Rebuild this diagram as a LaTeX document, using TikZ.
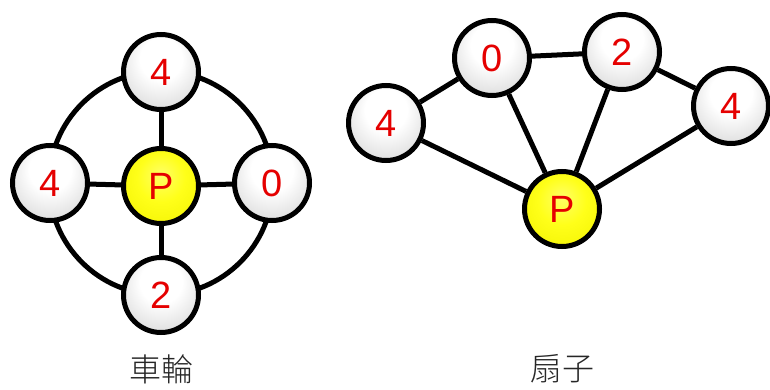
\documentclass[tikz,border=0pt]{standalone}
\usepackage{fontspec}
\setmainfont{Liberation Sans}
\newfontfamily\cjk{Noto Sans CJK TC Light}
% radial fill lit from above: white high up, grey towards the lower rim
\pgfdeclareradialshading{litball}{\pgfpoint{0bp}{12bp}}{%
  color(0bp)=(white); color(14bp)=(white); color(30bp)=(gray!25); color(42bp)=(gray!55); color(50bp)=(gray!60)}
\pgfdeclareradialshading{litsun}{\pgfpoint{0bp}{8bp}}{%
  color(0bp)=(yellow!60!white); color(16bp)=(yellow!90!white); color(36bp)=(yellow!95!black); color(50bp)=(yellow!80!black)}
\begin{document}
\begin{tikzpicture}[x=1pt,y=-1pt,
  vert/.style={circle,draw=black,line width=5pt,minimum size=75pt,inner sep=0pt,
    shading=litball,font=\fontsize{38}{38}\selectfont,text=red!90!black},
  hub/.style={vert,shading=litsun},
  link/.style={line width=5pt,draw=black},
  caption/.style={font=\cjk\fontsize{32}{32}\selectfont,text=black!85}]
\useasboundingbox (0,0) rectangle (770,390);

% wheel
\draw[link] (161,183) circle (112pt);
\node[hub]  (wp) at (161,186) {P};
\node[vert] (wt) at (161,72)  {4};
\node[vert] (wl) at (50,183)  {4};
\node[vert] (wr) at (272,183) {0};
\node[vert] (wb) at (161,295) {2};
\draw[link] (wp) -- (wt);
\draw[link] (wp) -- (wl);
\draw[link] (wp) -- (wr);
\draw[link] (wp) -- (wb);
\node[caption] (wcap) at (161,369) {車輪};

% fan
\node[hub]  (fp) at (562,209) {P};
\node[vert] (f1) at (386,123) {4};
\node[vert] (f2) at (492,58)  {0};
\node[vert] (f3) at (622,52)  {2};
\node[vert] (f4) at (731,106) {4};
\draw[link] (f1) -- (f2);
\draw[link] (f2) -- (f3);
\draw[link] (f3) -- (f4);
\draw[link] (fp) -- (f1);
\draw[link] (fp) -- (f2);
\draw[link] (fp) -- (f3);
\draw[link] (fp) -- (f4);
\node[caption] (fcap) at (562,369) {扇子};
\end{tikzpicture}
\end{document}
